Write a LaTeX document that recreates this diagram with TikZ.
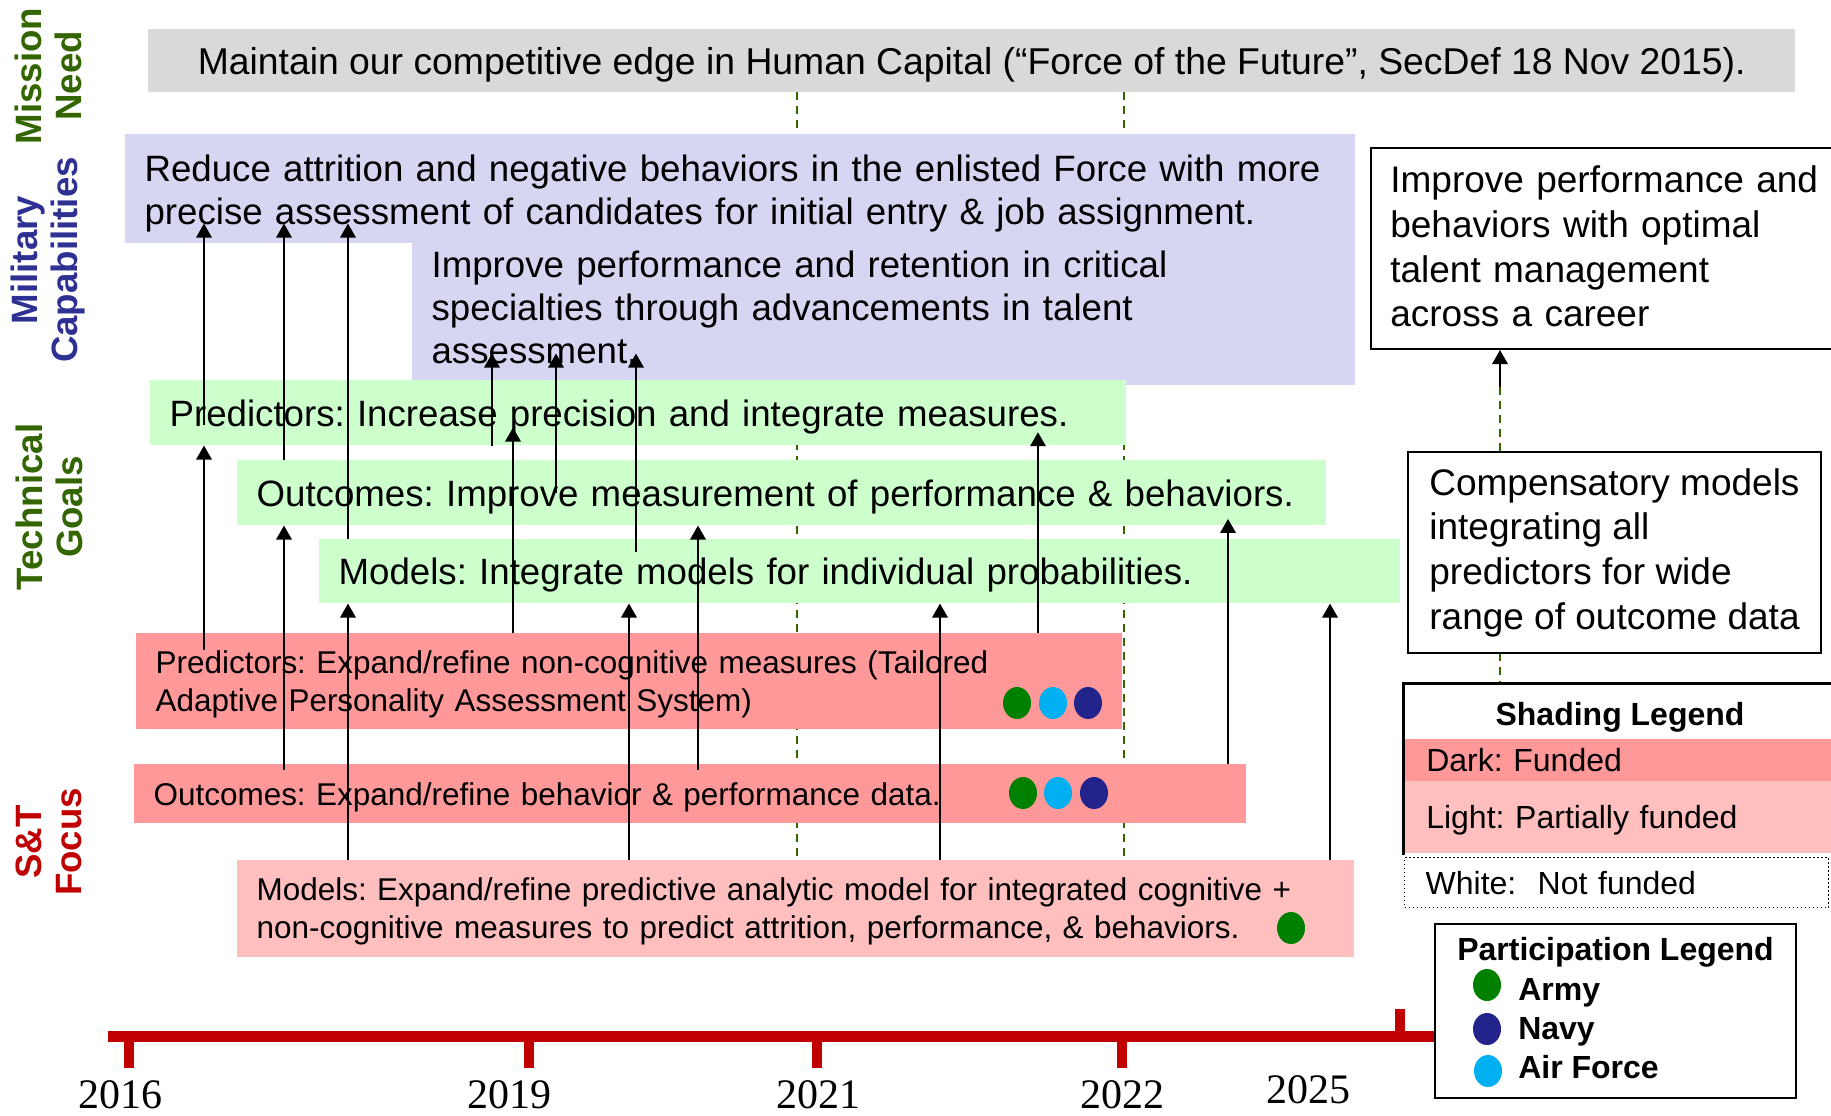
\documentclass[tikz,border=0pt]{standalone}
\usepackage{fontspec}
\setmainfont{Liberation Sans}
\newfontfamily\yearfont{Liberation Serif}
\usepackage{tikz}
\usetikzlibrary{arrows.meta,shapes.geometric}
\frenchspacing

\definecolor{needgreen}{RGB}{51,102,0}
\definecolor{capblue}{RGB}{46,49,146}
\definecolor{focusred}{RGB}{192,0,0}
\definecolor{missiongray}{RGB}{217,217,217}
\definecolor{capfill}{RGB}{214,214,243}
\definecolor{goalfill}{RGB}{204,255,204}
\definecolor{funded}{RGB}{255,153,153}
\definecolor{partfunded}{RGB}{255,191,191}
\definecolor{army}{RGB}{0,128,0}
\definecolor{navy}{RGB}{35,35,140}
\definecolor{airforce}{RGB}{0,176,240}
\definecolor{guidegreen}{RGB}{51,102,0}

\tikzset{
	box/.style={anchor=north west, inner xsep=14.5pt, inner ysep=0pt, align=left},
	oneline/.style={text depth=0pt},
	rowhead/.style={rotate=90, align=center, font=\bfseries\fontsize{27.5}{30}\selectfont},
	captext/.style={font=\fontsize{27.5}{32.5}\selectfont},
	goaltext/.style={font=\fontsize{27.5}{32.5}\selectfont},
	focustext/.style={font=\fontsize{23.6}{28.5}\selectfont},
	sidetext/.style={font=\fontsize{27.75}{33.5}\selectfont},
	legtext/.style={font=\fontsize{24}{28}\selectfont},
	legbold/.style={font=\bfseries\fontsize{24}{28}\selectfont},
	dot/.style={ellipse, inner sep=0pt, minimum width=21pt, minimum height=24pt},
	arr/.style={-{Triangle[length=10.5pt,width=11.5pt]}, line width=1.7pt},
	guide/.style={guidegreen, line width=1.5pt, dash pattern=on 6pt off 4.5pt},
	yearlabel/.style={anchor=base, inner sep=0pt, font=\yearfont\fontsize{31.5}{36}\selectfont},
	yeartick/.style={focusred, line width=7.5pt}
}

\begin{document}
\begin{tikzpicture}[x=0.75pt,y=0.75pt,yscale=-1,xscale=1]
		\useasboundingbox (0,0) rectangle (1831,1116);
		
		% Guide lines (behind the boxes)
		\coordinate (careerfoot) at (1500,387);
		\draw[guide] (797,92) -- (797,957);
		\draw[guide] (1124,92) -- (1124,957);
		\draw[guide] (careerfoot) -- (1500,683);
		
		% Row headers
		\node[rowhead, text=needgreen] (need) at (48,76) {Mission\\Need};
		\node[rowhead, text=capblue] (capab) at (48,260) {Military\\Capabilities};
		\node[rowhead, text=needgreen] (goals) at (49,507) {Technical\\Goals};
		\node[rowhead, text=focusred] (focus) at (49,842) {S\&T\\Focus};
		
		% Mission need
		\node[box, oneline, fill=missiongray, align=center, minimum width=1235.25pt, minimum height=47.25pt, font=\fontsize{28}{32}\selectfont] (mission) at (148,29) {Maintain our competitive edge in Human Capital (“Force of the Future”, SecDef 18 Nov 2015).};
		
		% Military capabilities
		\node[box, captext, fill=capfill, text width=893.5pt, minimum height=81.75pt, text height=26.8pt] (cap1) at (125,134) {Reduce attrition and negative behaviors in the enlisted Force with more\\precise assessment of candidates for initial entry \& job assignment.};
		\node[box, captext, fill=capfill, text width=678.25pt, minimum height=106.5pt, text height=9.5pt] (cap2) at (412,243) {Improve performance and retention in critical\\specialties through advancements in talent\\assessment.};
		
		% Technical goals
		\node[box, oneline, goaltext, fill=goalfill, text width=703pt, minimum height=48.75pt] (goal1) at (150,380) {Predictors: Increase precision and integrate measures.};
		\node[box, oneline, goaltext, fill=goalfill, text width=787.75pt, minimum height=48.75pt] (goal2) at (237,460) {Outcomes: Improve measurement of performance \& behaviors.};
		\node[box, oneline, goaltext, fill=goalfill, text width=781.75pt, minimum height=48pt] (goal3) at (319,539) {Models: Integrate models for individual probabilities.};
		
		% S&T focus
		\node[box, focustext, fill=funded, text width=710.5pt, minimum height=72pt, text height=21.5pt] (focus1) at (136,633) {Predictors: Expand/refine non-cognitive measures (Tailored\\Adaptive Personality Assessment System)};
		\node[box, oneline, focustext, fill=funded, text width=805pt, minimum height=44.25pt] (focus2) at (134,764) {Outcomes: Expand/refine behavior \& performance data.};
		\node[box, focustext, fill=partfunded, text width=808.75pt, minimum height=72.75pt, text height=20.7pt] (focus3) at (237,860) {Models: Expand/refine predictive analytic model for integrated cognitive +\\non-cognitive measures to predict attrition, performance, \& behaviors.};
		
		% Participation dots
		\node[dot, fill=army] (f1army) at (1017,703) {};
		\node[dot, fill=airforce] (f1air) at (1053,703) {};
		\node[dot, fill=navy] (f1navy) at (1088,703) {};
		\node[dot, fill=army] (f2army) at (1023,793) {};
		\node[dot, fill=airforce] (f2air) at (1058,793) {};
		\node[dot, fill=navy] (f2navy) at (1094,793) {};
		\node[dot, fill=army] (f3army) at (1291,928) {};
		
		% Side boxes
		\node[box, sidetext, draw, line width=1.5pt, fill=white, text width=340pt, minimum height=150.75pt, text height=17.3pt] (career) at (1370,147) {Improve performance and\\behaviors with optimal\\talent management\\across a career};
		\node[box, sidetext, draw, line width=1.5pt, fill=white, minimum width=309.75pt, minimum height=150.75pt] (comp) at (1407,451) {Compensatory models\\integrating all\\predictors for wide\\range of outcome data};
		
		% Columns of the connections
		\coordinate (c1) at (204,0);
		\coordinate (c2) at (284,0);
		\coordinate (c3) at (348,0);
		\coordinate (c4) at (492,0);
		\coordinate (c5) at (513,0);
		\coordinate (c6) at (556,0);
		\coordinate (c7) at (629,0);
		\coordinate (c8) at (636,0);
		\coordinate (c9) at (698,0);
		\coordinate (c10) at (940,0);
		\coordinate (c11) at (1038,0);
		\coordinate (c12) at (1228,0);
		\coordinate (c13) at (1330,0);
		
		% Connection
		\draw[arr, shorten <=-9pt, shorten >=-15pt] (c1 |- goal1.center) -- (c1 |- cap1.south);
		\draw[arr, shorten >=-15pt] (c2 |- goal2.north) -- (c2 |- cap1.south);
		\draw[arr, shorten >=-15pt] (c3 |- goal3.north) -- (c3 |- cap1.south);
		\draw[arr, shorten >=-24pt] (c4 |- goal1.south) -- (c4 |- cap2.south);
		\draw[arr, shorten >=-24pt] (c6 |- goal2.center) -- (c6 |- cap2.south);
		\draw[arr, shorten <=-10pt, shorten >=-24pt] (c8 |- goal3.north) -- (c8 |- cap2.south);
		% Connection
		\draw[arr, shorten <=-12.75pt] (c1 |- focus1.north) -- (c1 |- goal1.south);
		\draw[arr, shorten >=-13.5pt] (c5 |- focus1.north) -- (c5 |- goal1.south);
		\draw[arr, shorten >=-10pt] (c11 |- focus1.north) -- (c11 |- goal1.south);
		\draw[arr, shorten <=-4.5pt] (c2 |- focus2.north) -- (c2 |- goal2.south);
		\draw[arr, shorten <=-4.5pt] (c9 |- focus2.north) -- (c9 |- goal2.south);
		\draw[arr, shorten >=-5pt] (c12 |- focus2.north) -- (c12 |- goal2.south);
		\draw[arr] (c3 |- focus3.north) -- (c3 |- goal3.south);
		\draw[arr] (c7 |- focus3.north) -- (c7 |- goal3.south);
		\draw[arr] (c10 |- focus3.north) -- (c10 |- goal3.south);
		\draw[arr] (c13 |- focus3.north) -- (c13 |- goal3.south);
		% Connection
		\draw[arr] (careerfoot) -- (careerfoot |- career.south);
		
		% Shading legend
		\draw[line width=2.25pt] (1403,855) -- (1403,683) -- (1845,683);
		\node[legbold] (shadetitle) at (1620,717) {Shading Legend};
		\node[box, oneline, legtext, fill=funded, inner xsep=15.75pt, text width=298.5pt, minimum height=31.5pt] (legdark) at (1405,739) {Dark: Funded};
		\node[box, oneline, legtext, fill=partfunded, inner xsep=15.75pt, text width=298.5pt, minimum height=54pt] (leglight) at (1405,781) {Light: Partially funded};
		\node[box, oneline, legtext, draw, dotted, line width=1pt, inner xsep=15.75pt, text width=286.5pt, minimum height=37.5pt] (legwhite) at (1404,857) {White:\ \ Not funded};
		
		% Timeline
		\draw[focusred, line width=8.25pt] (108,1036.5) -- (1434,1036.5);
		\draw[yeartick] (129,1036) -- (129,1068);
		\draw[yeartick] (529,1036) -- (529,1068);
		\draw[yeartick] (817,1036) -- (817,1068);
		\draw[yeartick] (1121.5,1036) -- (1121.5,1068);
		\draw[yeartick] (1400,1036) -- (1400,1009);
		\node[yearlabel] (y2016) at (120,1108) {2016};
		\node[yearlabel] (y2019) at (509,1108) {2019};
		\node[yearlabel] (y2021) at (818,1108) {2021};
		\node[yearlabel] (y2022) at (1122,1108) {2022};
		\node[yearlabel] (y2025) at (1308,1103) {2025};
		
		% Participation legend
		\node[draw, fill=white, line width=1.5pt, anchor=north west, minimum width=270.75pt, minimum height=130.5pt] (partbox) at (1434,923) {};
		\node[legbold, anchor=base west, inner sep=0pt] (parttitle) at (1457,960) {Participation Legend};
		\node[dot, fill=army] (legarmy) at (1487,985) {};
		\node[legbold, anchor=base west, inner sep=0pt] (armytext) at (1518,1000) {Army};
		\node[dot, fill=navy] (legnavy) at (1487,1029) {};
		\node[legbold, anchor=base west, inner sep=0pt] (navytext) at (1518,1039) {Navy};
		\node[dot, fill=airforce] (legair) at (1488,1071) {};
		\node[legbold, anchor=base west, inner sep=0pt] (airtext) at (1518,1078) {Air Force};
		
\end{tikzpicture}
\end{document}
